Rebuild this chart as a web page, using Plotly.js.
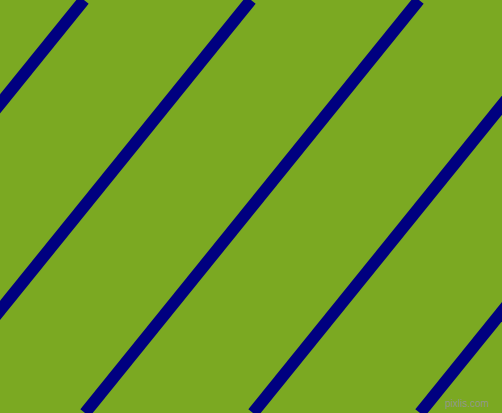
<!DOCTYPE html>
<html>
<head>
<meta charset="utf-8">
<script src="https://cdn.plot.ly/plotly-3.0.1.min.js"></script>
<style>
  html, body { margin: 0; padding: 0; background: #7ba922; }
  #plot { width: 502px; height: 413px; }
</style>
</head>
<body>
<div id="plot"></div>
<script>
/* global Plotly */
const WIDTH = 502;
const HEIGHT = 413;

// where each stripe crosses the top edge (y = 0) and the bottom edge (y = 413)
const STRIPE_TOP_X = [84, 251, 419, 587, 754];
const STRIPE_BOTTOM_X = [-250, -83, 85, 253, 420];
const EDGE_Y = [0, 413];

const GREEN = '#7ba922';
const NAVY = '#000080';

const traces = STRIPE_TOP_X.map(function (top, i) {
  return {
    x: [top, STRIPE_BOTTOM_X[i]],
    y: EDGE_Y,
    mode: 'lines',
    type: 'scatter',
    line: { color: NAVY, width: 12 },
    hoverinfo: 'skip',
    showlegend: false
  };
});

const layout = {
  width: WIDTH,
  height: HEIGHT,
  margin: { l: 0, r: 0, t: 0, b: 0, pad: 0 },
  paper_bgcolor: GREEN,
  plot_bgcolor: GREEN,
  xaxis: { range: [0, WIDTH], visible: false, fixedrange: true },
  yaxis: { range: [HEIGHT, 0], visible: false, fixedrange: true },
  annotations: [{
    text: 'pixlis.com',
    xref: 'paper', yref: 'paper',
    x: 0.978, y: 0.006,
    xanchor: 'right', yanchor: 'bottom',
    showarrow: false,
    font: { family: 'Liberation Sans', size: 10, color: 'rgba(150,150,150,0.95)' }
  }]
};

Plotly.newPlot('plot', traces, layout, { staticPlot: true, displayModeBar: false });
</script>
</body>
</html>
